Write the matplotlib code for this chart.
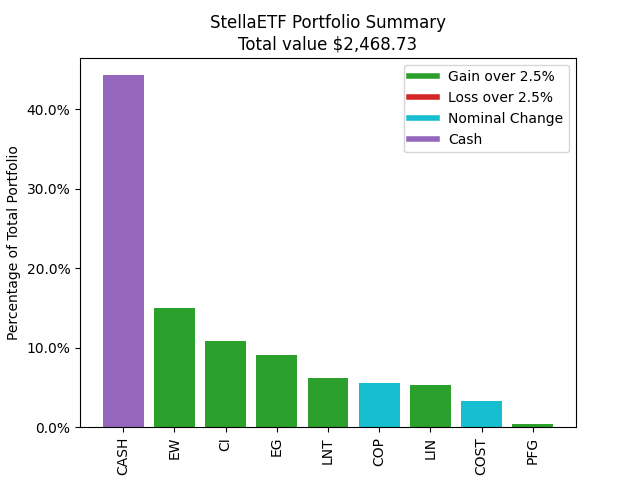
import matplotlib
matplotlib.use("Agg")
import matplotlib.pyplot as plt
from matplotlib.lines import Line2D
from matplotlib.ticker import PercentFormatter

# ---- data ----
tickers = ["CASH", "EW", "CI", "EG", "LNT", "COP", "LIN", "COST", "PFG"]
shares = [44.3, 15.0, 10.8, 9.1, 6.2, 5.6, 5.3, 3.3, 0.4]   # % of portfolio
status = ["cash", "gain", "gain", "gain", "gain", "nominal", "gain", "nominal", "gain"]
total_value = 2468.73

colors = {
    "gain": "tab:green",
    "loss": "tab:red",
    "nominal": "tab:cyan",
    "cash": "tab:purple",
}
labels = {
    "gain": "Gain over 2.5%",
    "loss": "Loss over 2.5%",
    "nominal": "Nominal Change",
    "cash": "Cash",
}

fig, ax = plt.subplots(figsize=(6.4, 4.8), dpi=100)
ax.bar(tickers, shares, color=[colors[s] for s in status])

ax.yaxis.set_major_formatter(PercentFormatter(decimals=1))
ax.set_ylabel("Percentage of Total Portfolio")
ax.set_title(f"StellaETF Portfolio Summary\nTotal value ${total_value:,.2f}")
plt.setp(ax.get_xticklabels(), rotation=90)

handles = [Line2D([0], [0], color=colors[k], lw=4, label=labels[k])
           for k in ["gain", "loss", "nominal", "cash"]]
ax.legend(handles=handles, loc="upper right")

fig.savefig("out.png", dpi=100)
